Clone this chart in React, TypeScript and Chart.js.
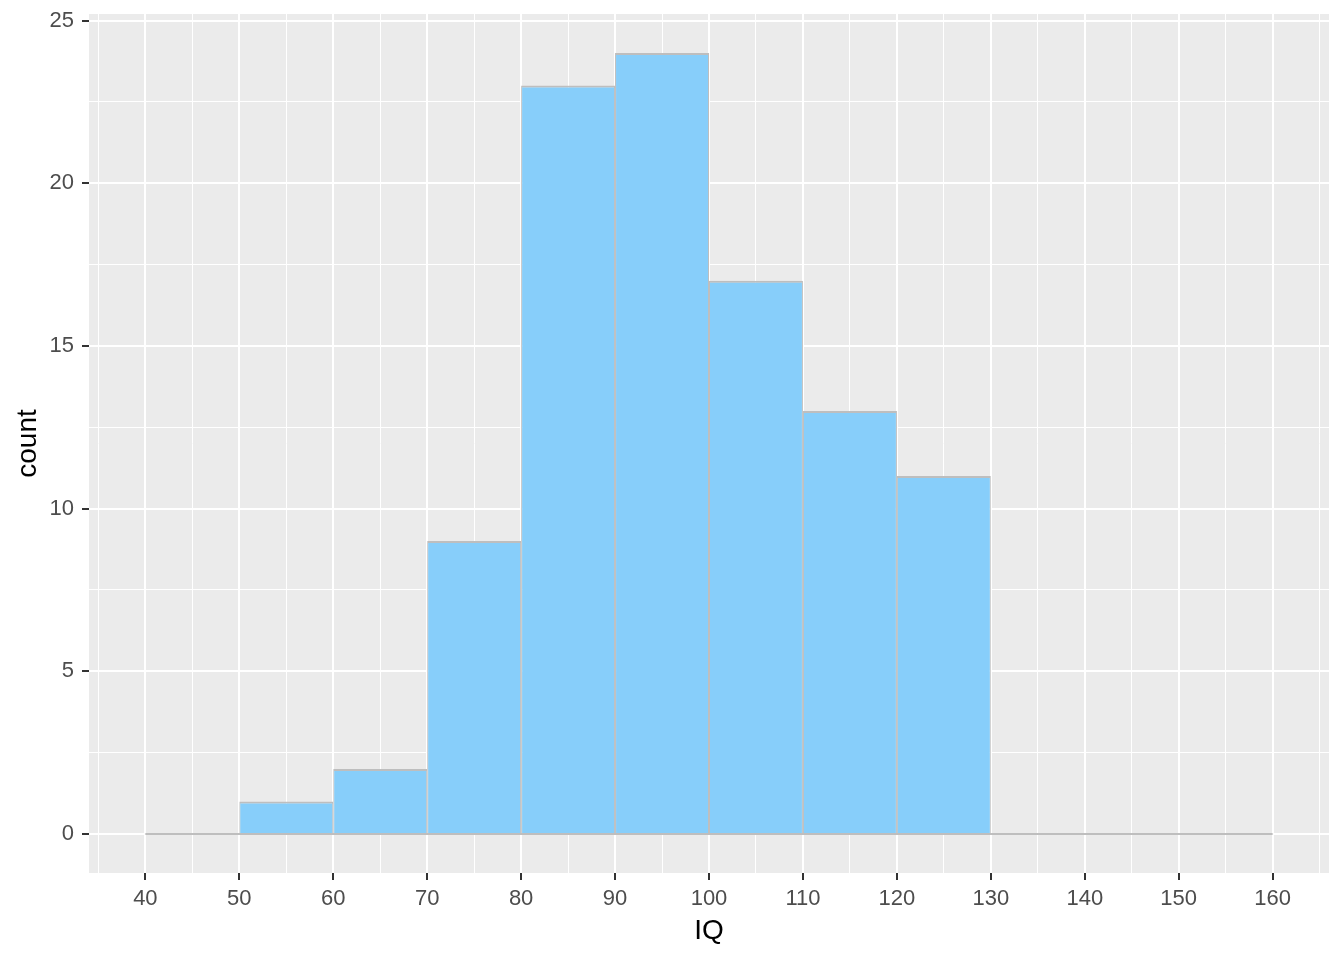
import React, { useEffect, useRef } from "react";
import { Chart, registerables } from "chart.js";

Chart.register(...registerables);

const binStarts = [40, 50, 60, 70, 80, 90, 100, 110, 120, 130, 140, 150];
const binWidth = 10;
const counts = [0, 1, 2, 9, 23, 24, 17, 13, 11, 0, 0, 0];
const xMajorTicks = [40, 50, 60, 70, 80, 90, 100, 110, 120, 130, 140, 150, 160];
const xMinorTicks = [35, 45, 55, 65, 75, 85, 95, 105, 115, 125, 135, 145, 155, 165];
const yMajorTicks = [0, 5, 10, 15, 20, 25];
const yMinorTicks = [2.5, 7.5, 12.5, 17.5, 22.5];
const xLabel = "IQ";
const yLabel = "count";

const FONT = "'Liberation Sans', Arial, sans-serif";

export default function App() {
  const ref = useRef<HTMLCanvasElement | null>(null);

  useEffect(() => {
    document.body.style.margin = "0";
    const canvas = ref.current;
    if (!canvas) return;

    const barData = binStarts.map((s, i) => ({ x: s + binWidth / 2, y: counts[i] }));
    const baseData = [
      { x: binStarts[0], y: 0 },
      { x: binStarts[binStarts.length - 1] + binWidth, y: 0 },
    ];

    const xAll = [...xMajorTicks, ...xMinorTicks].sort((a, b) => a - b);
    const yAll = [...yMajorTicks, ...yMinorTicks].sort((a, b) => a - b);

    const panelBg = {
      id: "panelBg",
      beforeDraw(chart: any) {
        const { ctx, chartArea } = chart;
        ctx.save();
        ctx.fillStyle = "#EBEBEB";
        ctx.fillRect(chartArea.left, chartArea.top, chartArea.right - chartArea.left, chartArea.bottom - chartArea.top);
        ctx.restore();
      },
    };

    const isMajorX = (v: number) => xMajorTicks.includes(v);
    const isMajorY = (v: number) => yMajorTicks.includes(v);

    const chart = new Chart(canvas, {
      type: "bar",
      data: {
        datasets: [
          {
            type: "line",
            data: baseData,
            borderColor: "#BEBEBE",
            borderWidth: 2,
            pointRadius: 0,
            order: 0,
          } as any,
          {
            type: "bar",
            data: barData,
            backgroundColor: "#87CEFA",
            borderColor: "#BEBEBE",
            borderWidth: { top: 2, left: 1, right: 1, bottom: 0 },
            borderSkipped: false,
            // ruler minimum is the 5-unit minor tick spacing; bins are 10 wide
            barPercentage: 2,
            categoryPercentage: 1,
            order: 1,
          } as any,
        ],
      },
      options: {
        responsive: false,
        animation: false,
        events: [],
        layout: { padding: { top: 14, right: 15, left: 0, bottom: 0 } },
        plugins: { legend: { display: false }, tooltip: { enabled: false } },
        scales: {
          x: {
            type: "linear",
            min: 34,
            max: 166,
            offset: false,
            afterBuildTicks: (s: any) => {
              s.ticks = xAll.map((v) => ({ value: v }));
            },
            afterFit: (s: any) => {
              s.height = 87;
              s.paddingLeft = 0;
              s.paddingRight = 0;
            },
            border: { display: false },
            grid: {
              offset: false,
              color: "#FFFFFF",
              lineWidth: (c: any) => (isMajorX(c.tick?.value) ? 2 : 1),
              tickColor: (c: any) => (isMajorX(c.tick?.value) ? "#333333" : "rgba(0,0,0,0)"),
              tickWidth: 2,
              tickLength: 7,
              drawTicks: true,
            },
            ticks: {
              autoSkip: false,
              maxRotation: 0,
              padding: 6,
              color: "#4D4D4D",
              font: { family: FONT, size: 22 },
              callback: (v: any) => (isMajorX(Number(v)) ? String(v) : ""),
            },
            title: {
              display: true,
              text: xLabel,
              color: "#000000",
              font: { family: FONT, size: 28 },
              padding: { top: 0, bottom: 12 },
            },
          },
          y: {
            type: "linear",
            min: -1.2,
            max: 25.2,
            afterBuildTicks: (s: any) => {
              s.ticks = yAll.map((v) => ({ value: v }));
            },
            afterFit: (s: any) => {
              s.width = 89;
              s.paddingTop = 0;
              s.paddingBottom = 0;
            },
            border: { display: false },
            grid: {
              color: "#FFFFFF",
              lineWidth: (c: any) => (isMajorY(c.tick?.value) ? 2 : 1),
              tickColor: (c: any) => (isMajorY(c.tick?.value) ? "#333333" : "rgba(0,0,0,0)"),
              tickWidth: 2,
              tickLength: 7,
            },
            ticks: {
              autoSkip: false,
              padding: 8,
              color: "#4D4D4D",
              font: { family: FONT, size: 22 },
              callback: (v: any) => (isMajorY(Number(v)) ? String(v) : ""),
            },
            title: {
              display: true,
              text: yLabel,
              color: "#000000",
              font: { family: FONT, size: 28 },
              padding: { top: 11, bottom: 0 },
            },
          },
        },
      } as any,
      plugins: [panelBg],
    });

    return () => chart.destroy();
  }, []);

  return <canvas ref={ref} width={1344} height={960} style={{ display: "block" }} />;
}
